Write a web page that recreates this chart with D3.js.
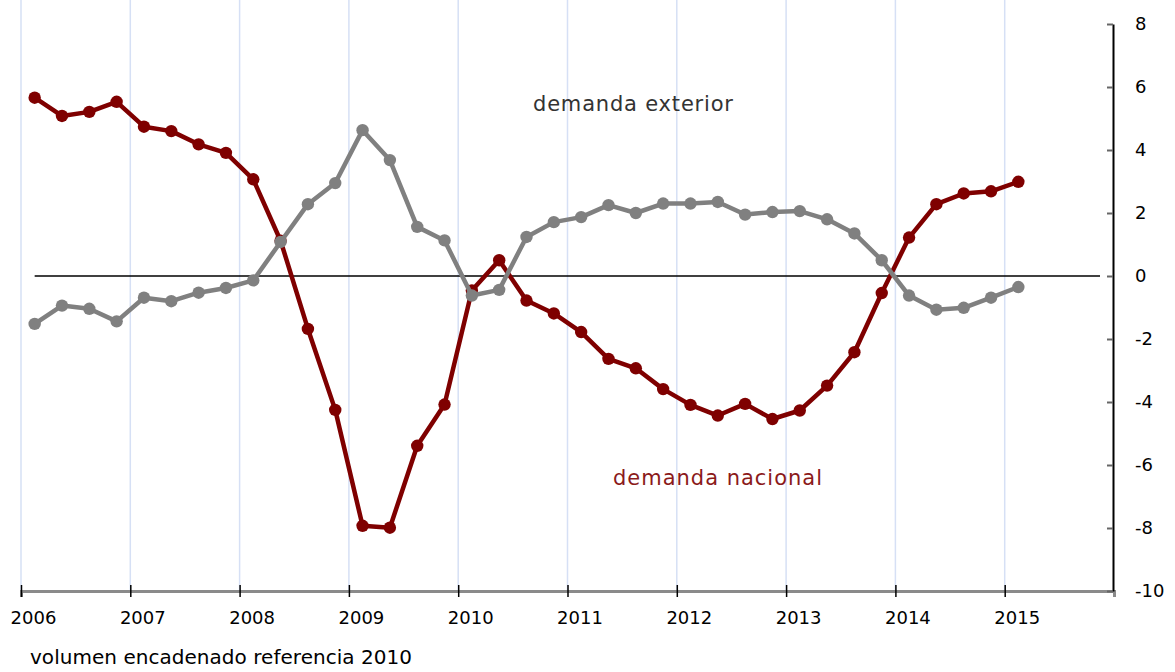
<!DOCTYPE html>
<html>
<head>
<meta charset="utf-8">
<script src="https://cdn.jsdelivr.net/npm/d3@7"></script>
<style>
body { margin: 0; background: #fff; }
svg { display: block; font-family: "DejaVu Sans", Verdana, sans-serif; }
</style>
</head>
<body>
<div class="chart"></div>
<script>
var width = 1175;
var height = 672;

// quarterly data, 2006 Q1 .. 2015 Q1
var years = [2006, 2007, 2008, 2009, 2010, 2011, 2012, 2013, 2014, 2015];
var quarters = [];
years.forEach(function(y) {
  [1, 2, 3, 4].forEach(function(q) {
    if (y < 2015 || q == 1) quarters.push(y + (q - 0.5) / 4);
  });
});

var nacional = [5.66, 5.08, 5.21, 5.53, 4.74, 4.6, 4.18, 3.91,
  3.07, 1.12, -1.68, -4.25, -7.93, -7.99, -5.39, -4.08,
  -0.46, 0.5, -0.78, -1.19, -1.78, -2.63, -2.93, -3.59,
  -4.09, -4.43, -4.06, -4.54, -4.27, -3.48, -2.42, -0.54,
  1.22, 2.28, 2.62, 2.69, 2.99];

var exterior = [-1.52, -0.94, -1.04, -1.44, -0.69, -0.8, -0.53, -0.38,
  -0.14, 1.08, 2.28, 2.95, 4.63, 3.68, 1.56, 1.13,
  -0.62, -0.44, 1.24, 1.71, 1.87, 2.25, 2.0, 2.3,
  2.3, 2.35, 1.95, 2.03, 2.06, 1.8, 1.35, 0.5,
  -0.62, -1.07, -1.01, -0.69, -0.35];

var yTicks = [-10, -8, -6, -4, -2, 0, 2, 4, 6, 8];

var svg = d3.select(".chart").append("svg")
  .attr("width", width)
  .attr("height", height);

var x = d3.scaleLinear().domain([2006, 2016]).range([21, 1114]);
var y = d3.scaleLinear().domain([-10, 8]).range([591, 24]);

// vertical year gridlines
svg.append("g").selectAll("line")
  .data(years)
  .enter().append("line")
  .attr("x1", function(d) { return x(d); })
  .attr("x2", function(d) { return x(d); })
  .attr("y1", 0)
  .attr("y2", y(-10))
  .attr("stroke", "#d6e0f5")
  .attr("stroke-width", 1.5);

// zero line
svg.append("line")
  .attr("x1", x(quarters[0]))
  .attr("x2", 1100)
  .attr("y1", y(0))
  .attr("y2", y(0))
  .attr("stroke", "#000")
  .attr("stroke-width", 1.6);

// x axis
var xg = svg.append("g")
  .attr("transform", "translate(0," + y(-10) + ")")
  .call(d3.axisBottom(x)
    .tickValues(years)
    .tickFormat(function(d) { return String(d); })
    .tickSizeOuter(0)
    .tickSize(6)
    .tickPadding(14));
xg.select(".domain").attr("stroke", "#8a8a8a").attr("stroke-width", 3);
xg.selectAll(".tick line").attr("y1", -6).attr("y2", 6).attr("stroke", "#000").attr("stroke-width", 1.5);
xg.selectAll(".tick text")
  .attr("dx", 12)
  .attr("fill", "#000")
  .attr("font-size", "18px")
  .attr("font-family", "DejaVu Sans, Verdana, sans-serif");

// y axis on the right, ticks pointing left
var yg = svg.append("g")
  .attr("transform", "translate(1113,0)")
  .call(d3.axisRight(y)
    .tickValues(yTicks)
    .tickFormat(function(d) { return String(d); })
    .tickSizeInner(-6)
    .tickSizeOuter(0)
    .tickPadding(22));
yg.select(".domain").attr("stroke", "#000").attr("stroke-width", 2);
yg.selectAll(".tick line").attr("stroke", "#666").attr("stroke-width", 2);
yg.selectAll(".tick text")
  .attr("fill", "#000")
  .attr("font-size", "18px")
  .attr("font-family", "DejaVu Sans, Verdana, sans-serif");

var line = d3.line()
  .x(function(d) { return x(d[0]); })
  .y(function(d) { return y(d[1]); });

function drawSeries(values, color) {
  var pts = quarters.map(function(q, i) { return [q, values[i]]; });
  svg.append("path")
    .datum(pts)
    .attr("fill", "none")
    .attr("stroke", color)
    .attr("stroke-width", 4.5)
    .attr("stroke-linejoin", "round")
    .attr("d", line);
  svg.append("g").selectAll("circle")
    .data(pts)
    .enter().append("circle")
    .attr("cx", function(d) { return x(d[0]); })
    .attr("cy", function(d) { return y(d[1]); })
    .attr("r", 6.2)
    .attr("fill", color);
}

drawSeries(nacional, "#7f0000");
drawSeries(exterior, "#808080");

// labels
svg.append("text")
  .attr("x", 533).attr("y", 111)
  .attr("font-size", "21px")
  .attr("fill", "#333")
  .attr("textLength", 200)
  .attr("lengthAdjust", "spacing")
  .text("demanda exterior");

svg.append("text")
  .attr("x", 613).attr("y", 485)
  .attr("font-size", "21px")
  .attr("fill", "#8b1a1a")
  .attr("textLength", 209)
  .attr("lengthAdjust", "spacing")
  .text("demanda nacional");

svg.append("text")
  .attr("x", 30).attr("y", 664)
  .attr("font-size", "20px")
  .attr("fill", "#000")
  .attr("textLength", 382)
  .attr("lengthAdjust", "spacing")
  .text("volumen encadenado referencia 2010");
</script>
</body>
</html>
